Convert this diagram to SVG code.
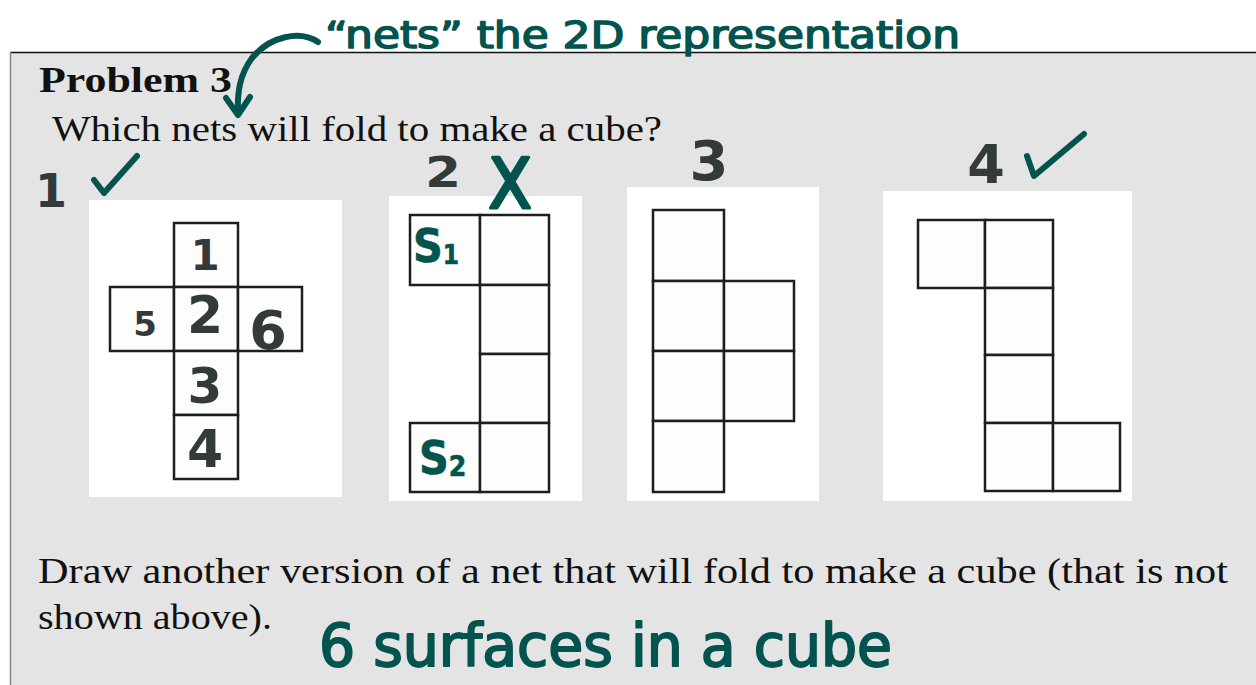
<svg xmlns="http://www.w3.org/2000/svg" width="1256" height="685" viewBox="0 0 1256 685">
<style>
.serif{font-family:"Liberation Serif","Times New Roman",serif;fill:#111}
.hand{font-family:"DejaVu Sans Condensed","DejaVu Sans",sans-serif;font-weight:normal;fill:#03534f;stroke:#03534f;stroke-width:1.4;stroke-linejoin:round}
.sub{font-weight:bold;stroke-width:0.6}
.dig{font-family:"DejaVu Sans","Liberation Sans",sans-serif;font-weight:bold;fill:#333a3a;text-anchor:middle}
.card{fill:#ffffff}
.sq{fill:#fdfdfb;stroke:#1e1e1e;stroke-width:2.5}
.mark{fill:none;stroke:#03534f;stroke-width:6;stroke-linecap:round;stroke-linejoin:round}
</style>
<defs></defs>
<rect x="0" y="0" width="1256" height="685" fill="#ffffff"/>
<g id="page">
<rect x="10" y="52" width="1250" height="640" fill="#e4e4e4"/>
<line x1="10" y1="52.5" x2="1256" y2="52.5" stroke="#111" stroke-width="1.6"/>
<line x1="10.5" y1="52" x2="10.5" y2="685" stroke="#888" stroke-width="1.5"/>
<text class="serif" x="39" y="92" font-size="35" font-weight="bold" textLength="193" lengthAdjust="spacingAndGlyphs">Problem 3</text>
<text class="serif" x="52" y="141" font-size="36" textLength="610" lengthAdjust="spacingAndGlyphs">Which nets will fold to make a cube?</text>
<text class="serif" x="38" y="583" font-size="35" textLength="1190" lengthAdjust="spacingAndGlyphs">Draw another version of a net that will fold to make a cube (that is not</text>
<text class="serif" x="38" y="629" font-size="35" textLength="234" lengthAdjust="spacingAndGlyphs">shown above).</text>
</g>
<g id="net1">
<rect class="card" x="89" y="200" width="253" height="297"/>
<rect class="sq" x="174" y="223" width="64" height="64"/>
<rect class="sq" x="110" y="287" width="64" height="64"/>
<rect class="sq" x="174" y="287" width="64" height="64"/>
<rect class="sq" x="238" y="287" width="64" height="64"/>
<rect class="sq" x="174" y="351" width="64" height="64"/>
<rect class="sq" x="174" y="415" width="64" height="64"/>
<text class="dig" x="205" y="270" font-size="42">1</text>
<text class="dig" x="145" y="336" font-size="34">5</text>
<text class="dig" x="205" y="333" font-size="52">2</text>
<text class="dig" x="268" y="349" font-size="54">6</text>
<text class="dig" x="205" y="403" font-size="50">3</text>
<text class="dig" x="205" y="467" font-size="52">4</text>
<text class="dig" x="51" y="207" font-size="46" font-weight="normal">1</text>
<path class="mark" d="M94 180 L104 193 L137 156"/>
</g>
<g id="net2">
<rect class="card" x="389" y="196" width="193" height="305"/>
<rect class="sq" x="410" y="215" width="70" height="70"/>
<rect class="sq" x="480" y="215" width="69" height="70"/>
<rect class="sq" x="480" y="285" width="69" height="69"/>
<rect class="sq" x="480" y="354" width="69" height="69"/>
<rect class="sq" x="410" y="423" width="70" height="69"/>
<rect class="sq" x="480" y="423" width="69" height="69"/>
<text class="hand sub" x="413" y="262" font-size="46">S<tspan font-size="26" dy="2">1</tspan></text>
<text class="hand sub" x="419" y="474" font-size="46">S<tspan font-size="28" dy="2">2</tspan></text>
<text class="dig" x="443" y="187" font-size="42" textLength="36" lengthAdjust="spacingAndGlyphs">2</text>
<text class="hand" x="510" y="208" font-size="70" text-anchor="middle" style="stroke-width:3">X</text>
</g>
<g id="net3">
<rect class="card" x="627" y="187" width="192" height="314"/>
<rect class="sq" x="653" y="210" width="71" height="71"/>
<rect class="sq" x="653" y="281" width="71" height="70"/>
<rect class="sq" x="724" y="281" width="70" height="70"/>
<rect class="sq" x="653" y="351" width="71" height="70"/>
<rect class="sq" x="724" y="351" width="70" height="70"/>
<rect class="sq" x="653" y="421" width="71" height="71"/>
<text class="dig" x="709" y="180" font-size="56">3</text>
</g>
<g id="net4">
<rect class="card" x="883" y="191" width="249" height="310"/>
<rect class="sq" x="918" y="220" width="67" height="68"/>
<rect class="sq" x="985" y="220" width="68" height="68"/>
<rect class="sq" x="985" y="288" width="68" height="67"/>
<rect class="sq" x="985" y="355" width="68" height="68"/>
<rect class="sq" x="985" y="423" width="68" height="68"/>
<rect class="sq" x="1053" y="423" width="67" height="68"/>
<text class="dig" x="986" y="183" font-size="54">4</text>
<path class="mark" d="M1027 156 L1034 176 L1084 134"/>
</g>
<g id="notes">
<text class="hand" x="325" y="48" font-size="38" textLength="635" lengthAdjust="spacingAndGlyphs">“nets” the 2D representation</text>
<text class="hand" x="319" y="666" font-size="58" textLength="573" lengthAdjust="spacingAndGlyphs" style="stroke-width:1.8">6 surfaces in a cube</text>
</g>
<g id="connectors">
<path class="mark" d="M318 42 C300 30 270 36 252 58 C240 74 237 92 238 114"/>
<path class="mark" d="M226 98 L238 115 L250 97"/>
</g>
</svg>
